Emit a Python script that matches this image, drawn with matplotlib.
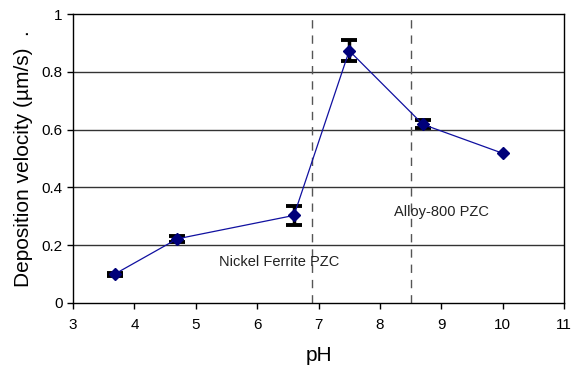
import matplotlib
matplotlib.use("Agg")
import matplotlib.pyplot as plt
import numpy as np
from matplotlib.ticker import FuncFormatter

ph = [3.68, 4.7, 6.6, 7.5, 8.7, 10.0]
velocity = [0.100, 0.222, 0.303, 0.873, 0.618, 0.518]
err = [0.005, 0.010, 0.034, 0.037, 0.014, np.nan]
pzc_lines = [6.9, 8.5]
labels = ["Nickel Ferrite PZC", "Alloy-800 PZC"]
label_pos = [(6.35, 0.142), (9.0, 0.315)]

plt.rcParams['font.family'] = ['Liberation Sans', 'DejaVu Sans']
fig = plt.figure(figsize=(5.73, 3.69), dpi=100)
ax = fig.add_axes([0.1274, 0.179, 0.857, 0.783])

for yv in [0.2, 0.4, 0.6, 0.8]:
    ax.axhline(yv, color='#333333', lw=1.0, zorder=1)
for xv in pzc_lines:
    ax.axvline(xv, color='#555555', lw=1.0, ls=(0, (6, 5)), zorder=1)

mask = ~np.isnan(np.array(err, dtype=float))
ax.errorbar(np.array(ph)[mask], np.array(velocity)[mask], yerr=np.array(err)[mask],
            fmt='none', ecolor='black', elinewidth=2.5,
            capsize=5.5, capthick=2.8, zorder=2)
ax.plot(ph, velocity, color='#1010A0', lw=0.9, marker='D', markersize=6.5,
        markerfacecolor='#00007A', markeredgecolor='#00007A', zorder=3)

for t, (x, y) in zip(labels, label_pos):
    ax.text(x, y, t, ha='center', va='center', fontsize=10.5, color='#222222')

ax.set_xlim(3, 11)
ax.set_ylim(0, 1)
ax.set_xticks(range(3, 12))
ax.set_yticks([0, 0.2, 0.4, 0.6, 0.8, 1.0])
ax.yaxis.set_major_formatter(FuncFormatter(lambda v, p: f"{v:g}"))
ax.tick_params(direction='out', length=4, labelsize=11, width=1)
ax.tick_params(axis='x', pad=7)
for s in ax.spines.values():
    s.set_color('black')
    s.set_linewidth(1.0)

ax.set_xlabel('pH', fontsize=15, labelpad=10)
ax.set_ylabel('Deposition velocity (µm/s)  .', fontsize=15, labelpad=6)

fig.savefig('out.png', dpi=100)
